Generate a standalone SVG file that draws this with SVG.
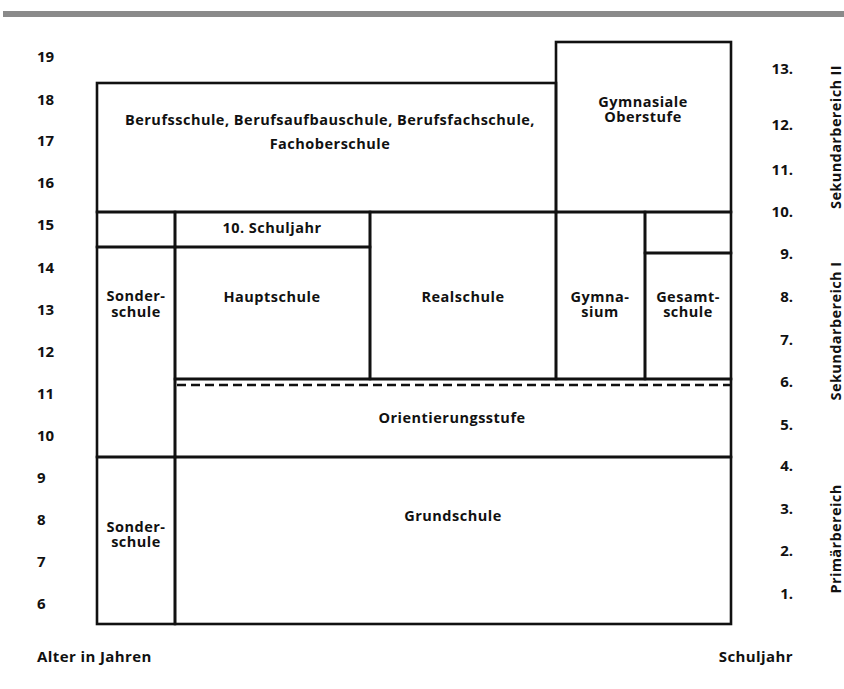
<svg xmlns="http://www.w3.org/2000/svg" width="844" height="689" viewBox="0 0 844 689">
<style>
  text { font-family: "Open Sans", "Liberation Sans", sans-serif; font-weight: 700; fill: #111; }
  .lbl { font-size: 14.5px; letter-spacing: 0.5px; text-anchor: middle; }
  .age { font-size: 15px; }
  .yr { font-size: 15px; text-anchor: end; }
  .foot { font-size: 15px; letter-spacing: 0.4px; }
  .side { font-size: 14.5px; letter-spacing: 0.4px; text-anchor: middle; }
  .box { fill: none; stroke: #111; stroke-width: 2.6; }
  .dash { fill: none; stroke: #111; stroke-width: 2.4; stroke-dasharray: 9 5; }
</style>
<rect x="3" y="11" width="841" height="6" fill="#8a8a8a"/>

<g id="axis-age">
  <text class="age" x="37" y="62">19</text>
  <text class="age" x="37" y="105">18</text>
  <text class="age" x="37" y="146">17</text>
  <text class="age" x="37" y="188">16</text>
  <text class="age" x="37" y="230">15</text>
  <text class="age" x="37" y="273">14</text>
  <text class="age" x="37" y="315">13</text>
  <text class="age" x="37" y="357">12</text>
  <text class="age" x="37" y="399">11</text>
  <text class="age" x="37" y="441">10</text>
  <text class="age" x="37" y="483">9</text>
  <text class="age" x="37" y="525">8</text>
  <text class="age" x="37" y="567">7</text>
  <text class="age" x="37" y="609">6</text>
  <text class="foot" x="37" y="662">Alter in Jahren</text>
</g>

<g id="axis-year">
  <text class="yr" x="793" y="74">13.</text>
  <text class="yr" x="793" y="130">12.</text>
  <text class="yr" x="793" y="175">11.</text>
  <text class="yr" x="793" y="217">10.</text>
  <text class="yr" x="793" y="259">9.</text>
  <text class="yr" x="793" y="302">8.</text>
  <text class="yr" x="793" y="345">7.</text>
  <text class="yr" x="793" y="387">6.</text>
  <text class="yr" x="793" y="430">5.</text>
  <text class="yr" x="793" y="471">4.</text>
  <text class="yr" x="793" y="514">3.</text>
  <text class="yr" x="793" y="556">2.</text>
  <text class="yr" x="793" y="599">1.</text>
  <text class="foot" x="793" y="662" text-anchor="end">Schuljahr</text>
</g>

<g id="bereiche">
  <text class="side" transform="translate(841,137) rotate(-90)">Sekundarbereich II</text>
  <text class="side" transform="translate(841,331) rotate(-90)">Sekundarbereich I</text>
  <text class="side" transform="translate(841,539) rotate(-90)">Primärbereich</text>
</g>

<g id="berufsschule">
  <rect class="box" x="97" y="83" width="459" height="129"/>
  <text class="lbl" x="330" y="125">Berufsschule, Berufsaufbauschule, Berufsfachschule,</text>
  <text class="lbl" x="330" y="149">Fachoberschule</text>
</g>

<g id="gymnasiale-oberstufe">
  <rect class="box" x="556" y="42" width="175" height="170"/>
  <text class="lbl" x="643" y="107">Gymnasiale</text>
  <text class="lbl" x="643" y="122">Oberstufe</text>
</g>

<g id="leer-sonderschule-10">
  <rect class="box" x="97" y="212" width="78" height="35"/>
</g>

<g id="zehntes-schuljahr">
  <rect class="box" x="175" y="212" width="195" height="35"/>
  <text class="lbl" x="272" y="233">10. Schuljahr</text>
</g>

<g id="sonderschule-sek">
  <rect class="box" x="97" y="247" width="78" height="210"/>
  <text class="lbl" x="136" y="301">Sonder-</text>
  <text class="lbl" x="136" y="317">schule</text>
</g>

<g id="hauptschule">
  <rect class="box" x="175" y="247" width="195" height="132"/>
  <text class="lbl" x="272" y="302">Hauptschule</text>
</g>

<g id="realschule">
  <rect class="box" x="370" y="212" width="186" height="167"/>
  <text class="lbl" x="463" y="302">Realschule</text>
</g>

<g id="gymnasium">
  <rect class="box" x="556" y="212" width="89" height="167"/>
  <text class="lbl" x="600" y="302">Gymna-</text>
  <text class="lbl" x="600" y="317">sium</text>
</g>

<g id="leer-gesamtschule-10">
  <rect class="box" x="645" y="212" width="86" height="41"/>
</g>

<g id="gesamtschule">
  <rect class="box" x="645" y="253" width="86" height="126"/>
  <text class="lbl" x="688" y="302">Gesamt-</text>
  <text class="lbl" x="688" y="317">schule</text>
</g>

<g id="orientierungsstufe">
  <rect class="box" x="175" y="379" width="556" height="78"/>
  <line class="dash" x1="177" y1="385" x2="730" y2="385"/>
  <text class="lbl" x="452" y="423">Orientierungsstufe</text>
</g>

<g id="sonderschule-primar">
  <rect class="box" x="97" y="457" width="78" height="167"/>
  <text class="lbl" x="136" y="532">Sonder-</text>
  <text class="lbl" x="136" y="547">schule</text>
</g>

<g id="grundschule">
  <rect class="box" x="175" y="457" width="556" height="167"/>
  <text class="lbl" x="453" y="521">Grundschule</text>
</g>

<g id="connectors"></g>
</svg>
